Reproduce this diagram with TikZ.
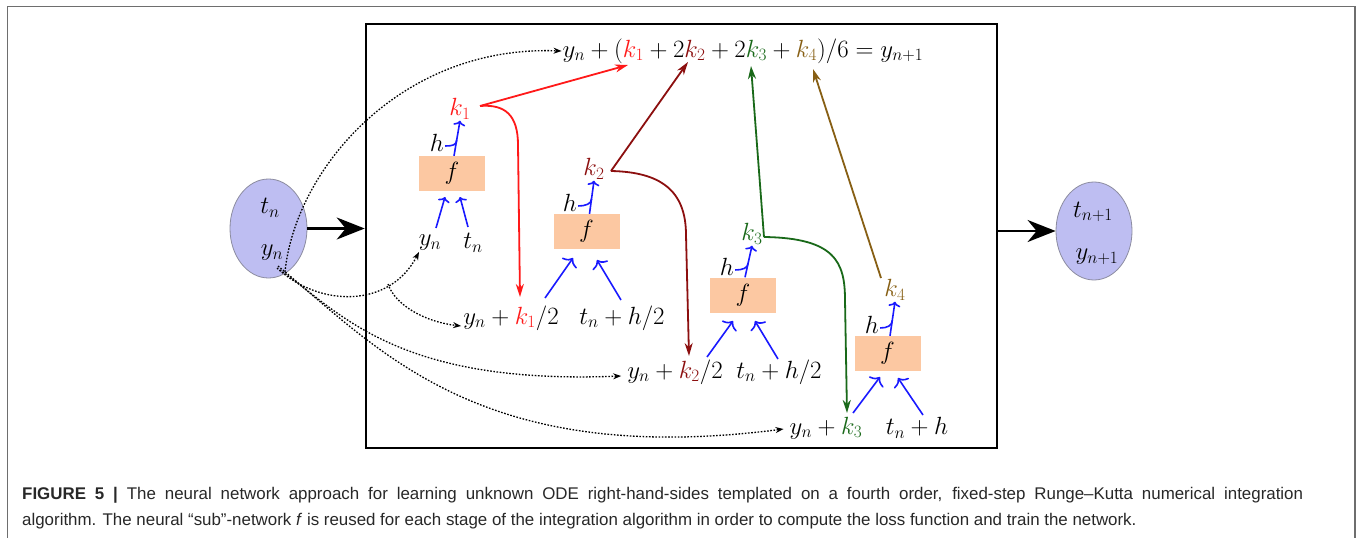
\documentclass[tikz,border=0pt]{standalone}
\usepackage{fontspec}
\newfontfamily\capfont{Liberation Sans}
\usetikzlibrary{arrows.meta,shapes.geometric,calc}
\definecolor{kone}{RGB}{255,25,25}
\definecolor{ktwo}{RGB}{140,15,15}
\definecolor{kthree}{RGB}{25,105,25}
\definecolor{kfour}{RGB}{135,95,20}
\definecolor{bl}{RGB}{25,25,255}
\definecolor{peach}{RGB}{252,200,162}
\definecolor{lav}{RGB}{190,190,242}
\definecolor{ellborder}{RGB}{140,140,160}
\definecolor{capgray}{RGB}{40,40,40}
\definecolor{framegray}{RGB}{110,110,110}
\begin{document}
\begin{tikzpicture}[x=1pt,y=-1pt,
  lbl/.style={font=\fontsize{23.5}{28}\selectfont, inner sep=1pt},
  fbox/.style={fill=peach, minimum width=66pt, minimum height=35pt, inner sep=0pt, font=\fontsize{23.5}{28}\selectfont},
  ell/.style={ellipse, fill=lav, draw=ellborder, line width=0.8pt, minimum width=77pt, minimum height=99pt, inner sep=0pt},
  bigarr/.style={line width=2.4pt, -{Stealth[length=28pt,width=22pt,inset=9pt]}},
  kline/.style={line width=1.8pt, -{Stealth[length=13pt,width=8pt,inset=4pt]}},
  dots/.style={line width=1.3pt, dash pattern=on 1.6pt off 1.6pt, -{Stealth[length=8pt,width=6pt]}},
  inarr/.style={bl, line width=1.6pt, -{Computer Modern Rightarrow[length=5pt,width=12pt]}},
  inarrb/.style={bl, line width=1.6pt, -{Computer Modern Rightarrow[length=7pt,width=18pt]}},
  hcurve/.style={bl, line width=1.6pt},
  captext/.style={anchor=base west, inner sep=0pt, font=\capfont\fontsize{16.9}{20}\selectfont, text=capgray},
]
\useasboundingbox (0,0) rectangle (1358,538);
\fill[white] (0,0) rectangle (1358,538);
\draw[framegray, line width=1.8pt] (7.5,538) -- (7.5,6.5) -- (1355,6.5) -- (1355,538);

% outer ellipses and main box
\node[ell] (L) at (268.5,228.5) {};
\node[lbl] (tn) at (270,208) {$t_n$};
\node[lbl] (yn) at (272,253) {$y_n$};
\node[ell, minimum width=76pt, minimum height=98pt] (R) at (1094,231) {};
\node[lbl] (tn1) at (1093,212) {$t_{n+1}$};
\node[lbl] (yn1) at (1097,257) {$y_{n+1}$};
\node[draw, line width=2.6pt, minimum width=631pt, minimum height=424pt, inner sep=0pt] (box) at (681.5,236) {};

\node[lbl] (F) at (743,51) {$y_n + (\textcolor{kone}{k_1} + 2\textcolor{ktwo}{k_2} + 2\textcolor{kthree}{k_3} + \textcolor{kfour}{k_4})/6 = y_{n+1}$};

% stage 1
\node[lbl, text=kone] (k1) at (460,109) {$k_1$};
\node[lbl] (h1) at (437,143) {$h$};
\node[fbox] (f1) at (452,173.5) {$f$};
\node[lbl] (a1) at (430,243) {$y_n$};
\node[lbl] (b1) at (473,243) {$t_n$};
% stage 2
\node[lbl, text=ktwo] (k2) at (594,169) {$k_2$};
\node[lbl] (h2) at (570,203) {$h$};
\node[fbox] (f2) at (586.5,231.5) {$f$};
\node[lbl] (a2) at (511,318) {$y_n + \textcolor{kone}{k_1}/2$};
\node[lbl] (b2) at (622,318) {$t_n + h/2$};
% stage 3
\node[lbl, text=kthree] (k3) at (752,234) {$k_3$};
\node[lbl] (h3) at (727,267) {$h$};
\node[fbox] (f3) at (743,295) {$f$};
\node[lbl] (a3) at (675,372) {$y_n + \textcolor{ktwo}{k_2}/2$};
\node[lbl] (b3) at (779,372) {$t_n + h/2$};
% stage 4
\node[lbl, text=kfour] (k4) at (895,290) {$k_4$};
\node[lbl] (h4) at (872,325) {$h$};
\node[fbox] (f4) at (887.5,353.5) {$f$};
\node[lbl] (a4) at (826,428) {$y_n + \textcolor{kthree}{k_3}$};
\node[lbl] (b4) at (917,428) {$t_n + h$};

% big arrows
\draw[bigarr] (L.east) -- (L.east -| box.west);
\draw[bigarr] (R.west -| box.east) -- (R.west);

% k connectors
\draw[kline, kone] ([shift={(20,-3)}]k1.center) -- ([shift={(-115,14)}]F.center);
\draw[kline, kone] ([shift={(20,-3)}]k1.center) .. controls (505,104) and (518,115) .. (518,145) -- ([shift={(9,-21)}]a2.center);
\draw[kline, ktwo] ([shift={(17,2)}]k2.center) -- ([shift={(-55,11)}]F.center);
\draw[kline, ktwo] ([shift={(17,2)}]k2.center) .. controls (660,172) and (686,190) .. (686,235) -- ([shift={(14,-16)}]a3.center);
\draw[kline, kthree] ([shift={(12,3)}]k3.center) -- ([shift={(8,15)}]F.center);
\draw[kline, kthree] ([shift={(12,3)}]k3.center) .. controls (835,238) and (845,262) .. (845,300) -- ([shift={(21,-15)}]a4.center);
\draw[kline, kfour] ([shift={(-14,-12)}]k4.center) -- ([shift={(70,18)}]F.center);

% input arrows
\draw[inarr] ([shift={(6,-15)}]a1.center) -- ([shift={(-7,23.5)}]f1.center);
\draw[inarr] ([shift={(-5,-16)}]b1.center) -- ([shift={(8,23.5)}]f1.center);
\draw[inarrb] ([shift={(34,-20)}]a2.center) -- ([shift={(-13.5,26.5)}]f2.center);
\draw[inarrb] ([shift={(-1,-18)}]b2.center) -- ([shift={(10.5,28.5)}]f2.center);
\draw[inarrb] ([shift={(32,-15)}]a3.center) -- ([shift={(-10,26)}]f3.center);
\draw[inarrb] ([shift={(-1,-13)}]b3.center) -- ([shift={(12,26)}]f3.center);
\draw[inarrb] ([shift={(27,-15)}]a4.center) -- ([shift={(-7.5,23.5)}]f4.center);
\draw[inarrb] ([shift={(6,-13)}]b4.center) -- ([shift={(10.5,24.5)}]f4.center);

% h arrows
\draw[inarr] ([shift={(2,0)}]f1.north) -- (k1.south);
\draw[hcurve] ([shift={(0,3)}]h1.east) .. controls +(7,0) and +(0,5) .. ($([shift={(2,0)}]f1.north)!0.45!(k1.south)$);
\draw[inarr] ([shift={(3,0)}]f2.north) -- (k2.south);
\draw[hcurve] ([shift={(0,3)}]h2.east) .. controls +(7,0) and +(0,5) .. ($([shift={(3,0)}]f2.north)!0.45!(k2.south)$);
\draw[inarr] ([shift={(2,0)}]f3.north) -- (k3.south);
\draw[hcurve] ([shift={(0,3)}]h3.east) .. controls +(7,0) and +(0,5) .. ($([shift={(2,0)}]f3.north)!0.45!(k3.south)$);
\draw[inarr] ([shift={(2.5,0)}]f4.north) -- (k4.south);
\draw[hcurve] ([shift={(0,3)}]h4.east) .. controls +(7,0) and +(0,5) .. ($([shift={(2.5,0)}]f4.north)!0.45!(k4.south)$);

% dotted connectors
\coordinate (bs) at (388,284);
\draw[dots] ([shift={(13,19)}]yn.center) .. controls (295,170) and (400,45) .. (F.west);
\draw[dots] ([shift={(5,15)}]yn.center) .. controls (320,308) and (390,308) .. ([shift={(-11,9)}]a1.center);
\draw[dots] (bs) .. controls (395,305) and (425,322) .. ([shift={(-1,8)}]a2.west);
\draw[dots] ([shift={(8,17)}]yn.center) .. controls (340,312) and (395,385) .. ([shift={(-5,4)}]a3.west);
\draw[dots] ([shift={(6,13)}]yn.center) .. controls (380,350) and (480,468) .. ([shift={(-5,1)}]a4.west);

% caption
\node[captext] (cap1) at (22,499) {\makebox[1281pt][s]{\textbf{FIGURE 5 |} The neural network approach for learning unknown ODE right-hand-sides templated on a fourth order, fixed-step Runge–Kutta numerical integration}};
\node[captext] (cap2) at (22,525) {algorithm. The neural “sub”-network \textit{f} is reused for each stage of the integration algorithm in order to compute the loss function and train the network.};
\end{tikzpicture}
\end{document}
